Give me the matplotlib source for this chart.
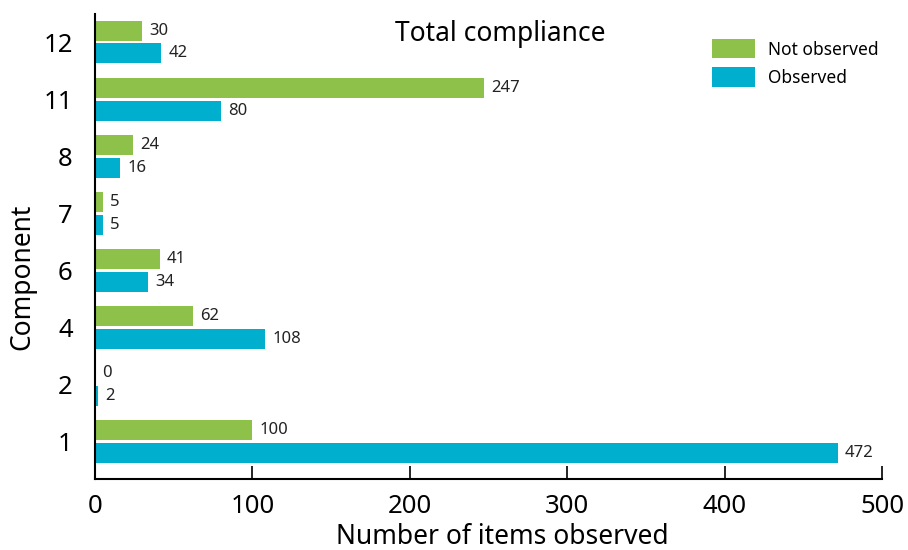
import matplotlib
matplotlib.use('Agg')
import matplotlib.pyplot as plt
import numpy as np

plt.rcParams['font.family'] = ['Noto Sans', 'DejaVu Sans']

components = ['1', '2', '4', '6', '7', '8', '11', '12']
not_observed = [100, 0, 62, 41, 5, 24, 247, 30]
observed = [472, 2, 108, 34, 5, 16, 80, 42]

green = '#8dc149'
blue = '#00afcd'

fig = plt.figure(figsize=(9.08, 5.5), dpi=100)
ax = fig.add_axes([0.1046, 0.129, 0.8668, 0.8455])

y = np.arange(len(components))
h = 0.35
ax.barh(y + 0.2, not_observed, height=h, color=green, label='Not observed')
ax.barh(y - 0.2, observed, height=h, color=blue, label='Observed')

for yi, v in zip(y, not_observed):
    ax.text(v + 4.5, yi + 0.2, str(v), va='center', ha='left', fontsize=12, color='#222222')
for yi, v in zip(y, observed):
    ax.text(v + 4.5, yi - 0.2, str(v), va='center', ha='left', fontsize=12, color='#222222')

ax.set_xlim(0, 500)
ax.set_ylim(-0.65, 7.49)
ax.set_yticks(y)
ax.set_yticklabels(components, fontsize=18.5)
ax.set_xticks([0, 100, 200, 300, 400, 500])
ax.tick_params(axis='x', direction='in', length=9.5, width=1.2, labelsize=18.5, pad=10.5)
ax.tick_params(axis='y', length=0, pad=16)

for s in ['top', 'right']:
    ax.spines[s].set_visible(False)
ax.spines['left'].set_linewidth(1.5)
ax.spines['bottom'].set_linewidth(1.5)

ax.set_xlabel('Number of items observed', fontsize=19)
ax.xaxis.set_label_coords(0.517, -0.094)
ax.set_ylabel('Component', fontsize=19)
ax.yaxis.set_label_coords(-0.074, 0.434)
ax.text(0.515, 0.958, 'Total compliance', transform=ax.transAxes, ha='center', va='center', fontsize=19)

fig.legend(loc='upper left', bbox_to_anchor=(712 / 908, 1 - 39 / 550), frameon=False, fontsize=12.5,
           borderpad=0, borderaxespad=0, handlelength=2.47, handleheight=1.35,
           handletextpad=0.75, labelspacing=0.5)

fig.savefig('out.png', dpi=100)
